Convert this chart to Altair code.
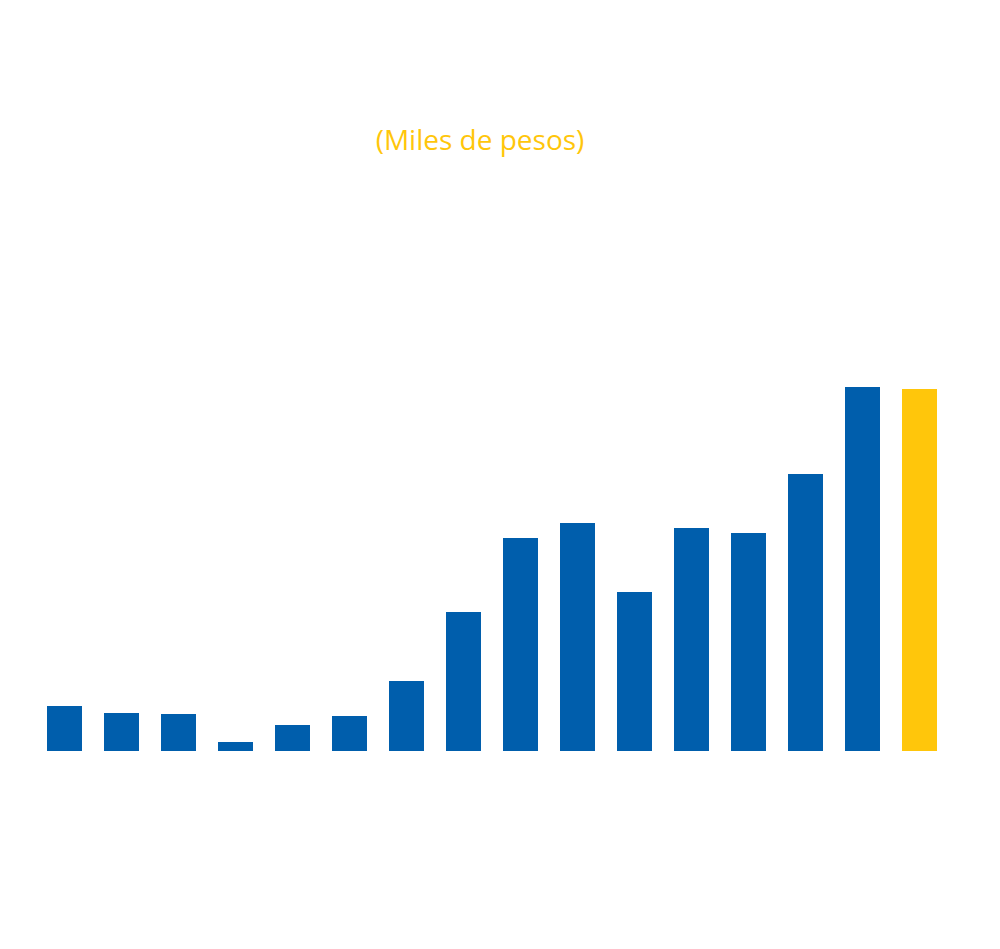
import altair as alt
import pandas as pd

years = [str(y) for y in range(2005, 2021)]
values = [45, 38, 37, 9, 26, 35, 70, 139, 213, 228, 159, 223, 218, 277, 364, 362]
highlight = [False] * 15 + [True]

df = pd.DataFrame({"anio": years, "valor": values, "destacado": highlight})

chart = alt.Chart(df).mark_bar().encode(
    x=alt.X("anio:N", sort=years, axis=None,
            scale=alt.Scale(paddingInner=0.386, paddingOuter=0.193)),
    y=alt.Y("valor:Q", axis=None, scale=alt.Scale(domain=[0, 400], nice=False)),
    color=alt.Color("destacado:N", legend=None,
                    scale=alt.Scale(domain=[False, True], range=["#005EAC", "#FFC60B"])),
).properties(
    width=912,
    height=400,
    title=alt.TitleParams("(Miles de pesos)", color="#FFC60B", font="Open Sans",
                          fontSize=28, fontWeight="normal", anchor="middle",
                          dx=-12, offset=167, baseline="bottom"),
    autosize=alt.AutoSizeParams(type="none"),
    padding={"left": 28, "top": 343, "right": 0, "bottom": 0},
).configure_view(stroke=None)

chart.save("out.html", embed_options={"renderer": "svg", "actions": False})
